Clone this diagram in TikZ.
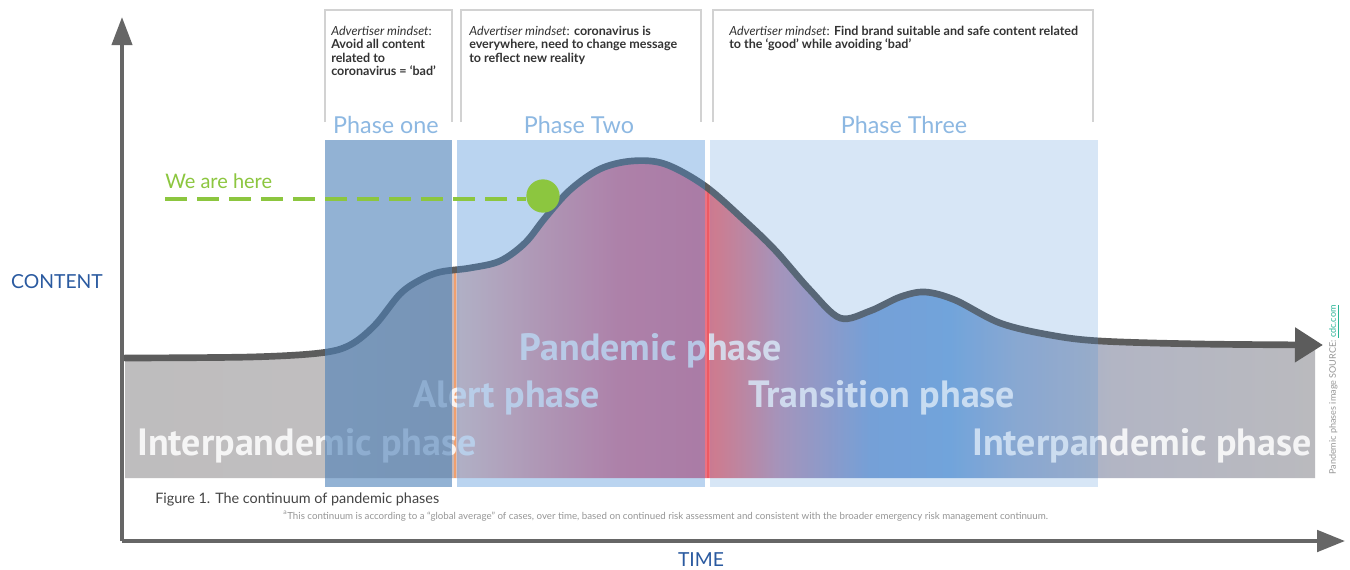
\documentclass[tikz,border=0pt]{standalone}
\usepackage{fontspec}
\setmainfont{Lato}
\newfontfamily\bigfont{PT Sans}
\usetikzlibrary{arrows.meta}

\definecolor{axisgray}{RGB}{102,102,102}
\definecolor{curvegray}{RGB}{92,92,92}
\definecolor{boxline}{RGB}{210,210,210}
\definecolor{boxtext}{RGB}{51,51,51}
\definecolor{phasetitle}{RGB}{141,184,226}
\definecolor{axislabel}{RGB}{42,90,160}
\definecolor{herecol}{RGB}{140,198,63}
\definecolor{ovone}{RGB}{74,127,184}
\definecolor{ovtwo}{RGB}{74,144,217}
\definecolor{orangeline}{RGB}{240,160,110}
\definecolor{redline}{RGB}{235,90,100}
\definecolor{captioncol}{RGB}{68,68,68}
\definecolor{notecol}{RGB}{150,150,150}
\definecolor{teal}{RGB}{40,180,150}

\definecolor{sa}{RGB}{190,189,190}
\definecolor{sb}{RGB}{192,190,191}
\definecolor{sc}{RGB}{190,182,182}
\definecolor{sd}{RGB}{240,195,185}
\definecolor{se}{RGB}{238,155,160}
\definecolor{sf}{RGB}{235,120,140}
\definecolor{sg}{RGB}{230,112,135}
\definecolor{sh}{RGB}{242,119,124}
\definecolor{si}{RGB}{190,150,180}
\definecolor{sj}{RGB}{130,165,215}
\definecolor{sk}{RGB}{125,170,220}
\definecolor{sl}{RGB}{155,175,208}
\definecolor{sm}{RGB}{178,181,196}
\definecolor{sn}{RGB}{186,186,190}

\pgfdeclarehorizontalshading{bandshade}{100bp}{color(0bp)=(sa); color(25bp)=(sa); color(33.19bp)=(sb); color(38.66bp)=(sc); color(39.08bp)=(sd); color(42.44bp)=(se); color(45.8bp)=(sf); color(49.16bp)=(sg); color(49.79bp)=(sh); color(52.52bp)=(si); color(56.3bp)=(sj); color(59.66bp)=(sk); color(62.5bp)=(sl); color(66.5bp)=(sm); color(75bp)=(sn); color(100bp)=(sn)}

\tikzset{
  axisline/.style={draw=axisgray, line width=3pt},
  curveline/.style={draw=curvegray, line width=5pt, line cap=round},
  mindbox/.style={draw=boxline, line width=0.8pt},
  mindtext/.style={anchor=north west, inner sep=0pt, align=left, text=boxtext,
    font=\fontsize{9.4}{10}\selectfont},
  phasetitlestyle/.style={anchor=base, inner sep=0pt, text=phasetitle,
    font=\fontsize{17.5}{20}\selectfont},
  biglabel/.style={anchor=base, inner sep=0pt, text=white, text opacity=0.85,
    font=\bigfont\bfseries\fontsize{28.5}{32}\selectfont},
  axislabelstyle/.style={inner sep=0pt, text=axislabel, font=\fontsize{14.5}{17}\selectfont},
}

\begin{document}
\begin{tikzpicture}[x=0.75pt,y=-0.75pt]
\useasboundingbox (0,0) rectangle (1350,569);
\fill[white] (0,0) rectangle (1350,569);

% coloured band under the curve
\shade[shading=bandshade] plot[smooth,tension=0.55] coordinates {(125,358) (250,357) (320,353) (350,345) (375,325) (400,294) (420,280) (440,272) (470,268) (500,261) (525,243) (545,218) (570,190) (600,169) (632,161) (665,164) (705,186) (745,221) (775,250) (810,290) (840,318) (870,311) (900,297) (925,292) (955,300) (1000,323) (1050,335) (1100,341) (1200,344) (1315,345)} -- (1315,478) -- (125,478) -- cycle;

\draw[orangeline, line width=2.2pt] (455,271) -- (455,478);
\draw[redline, line width=1.5pt] (708,189) -- (708,478);

% big phase labels
\node[biglabel] (interL) at (307,455) {Interpandemic phase};
\node[biglabel] (alert) at (507,407) {Alert phase};
\node[biglabel] (pandemic) at (651,360) {Pandemic phase};
\node[biglabel] (transition) at (882,407) {Transition phase};
\node[biglabel] (interR) at (1142,455) {Interpandemic phase};

% curve
\draw[curveline, -{Triangle[length=21pt,width=25pt]}] plot[smooth,tension=0.55] coordinates {(125,358) (250,357) (320,353) (350,345) (375,325) (400,294) (420,280) (440,272) (470,268) (500,261) (525,243) (545,218) (570,190) (600,169) (632,161) (665,164) (705,186) (745,221) (775,250) (810,290) (840,318) (870,311) (900,297) (925,292) (955,300) (1000,323) (1050,335) (1100,341) (1200,344) (1323,345)};

% phase overlays
\fill[ovone, opacity=0.6] (325,140) rectangle (452,487);
\fill[ovtwo, opacity=0.38] (457,140) rectangle (705,487);
\fill[ovtwo, opacity=0.22] (710,140) rectangle (1098,487);

% mindset boxes
\draw[mindbox] (325,122) -- (325,10) -- (452,10) -- (452,122);
\draw[mindbox] (461,122) -- (461,10) -- (701,10) -- (701,122);
\draw[mindbox] (713,122) -- (713,10) -- (1093,10) -- (1093,122);

\node[mindtext] (m1) at (331,26) {\textit{Advertiser mindset}:\\ \textbf{Avoid all content}\\ \textbf{related to}\\ \textbf{coronavirus = ‘bad’}};
\node[mindtext] (m2) at (469,26) {\textit{Advertiser mindset}: \textbf{coronavirus is}\\ \textbf{everywhere, need to change message}\\ \textbf{to reflect new reality}};
\node[mindtext] (m3) at (729,26) {\textit{Advertiser mindset}: \textbf{Find brand suitable and safe content related}\\ \textbf{to the ‘good’ while avoiding ‘bad’}};

% phase titles
\node[phasetitlestyle] (p1) at (386,133) {Phase one};
\node[phasetitlestyle] (p2) at (579,133) {Phase Two};
\node[phasetitlestyle] (p3) at (904,133) {Phase Three};

% we are here
\node[anchor=base west, inner sep=0pt, text=herecol, font=\fontsize{15}{17}\selectfont] (herelabel) at (165,188) {We are here};
\coordinate (herestart) at (165,199);
\node[circle, fill=herecol, minimum size=25pt, inner sep=0pt] (dot) at (543,196) {};
\draw[herecol, line width=2.3pt, dash pattern=on 16.5pt off 7.5pt] (herestart) -- (dot.west |- herestart);

% axes
\coordinate (O) at (122,541);
\coordinate (ytip) at (122,17);
\coordinate (xtip) at (1345,541);
\draw[axisline, -{Triangle[length=21pt,width=15pt]}] (O) -- (ytip);
\draw[axisline, -{Triangle[length=21pt,width=16pt]}] (O) -- (xtip);
\node[axislabelstyle] (content) at (57,282) {CONTENT};
\node[axislabelstyle, anchor=base] (time) at (701,566) {TIME};

% captions
\node[anchor=base west, inner sep=0pt, text=captioncol, font=\fontsize{10.8}{13}\selectfont] (caption) at (155,503) {Figure 1. The continuum of pandemic phases};
\node[anchor=base west, inner sep=0pt, text=notecol, font=\fontsize{7.3}{9}\selectfont] (note) at (283,519) {\textsuperscript{a}This continuum is according to a “global average” of cases, over time, based on continued risk assessment and consistent with the broader emergency risk management continuum.};
\node[anchor=west, rotate=90, inner sep=0pt, text=notecol, font=\fontsize{6.8}{8}\selectfont] (source) at (1334,475) {Pandemic phases image SOURCE: \textcolor{teal}{\underline{cdc.com}}};
\end{tikzpicture}
\end{document}
